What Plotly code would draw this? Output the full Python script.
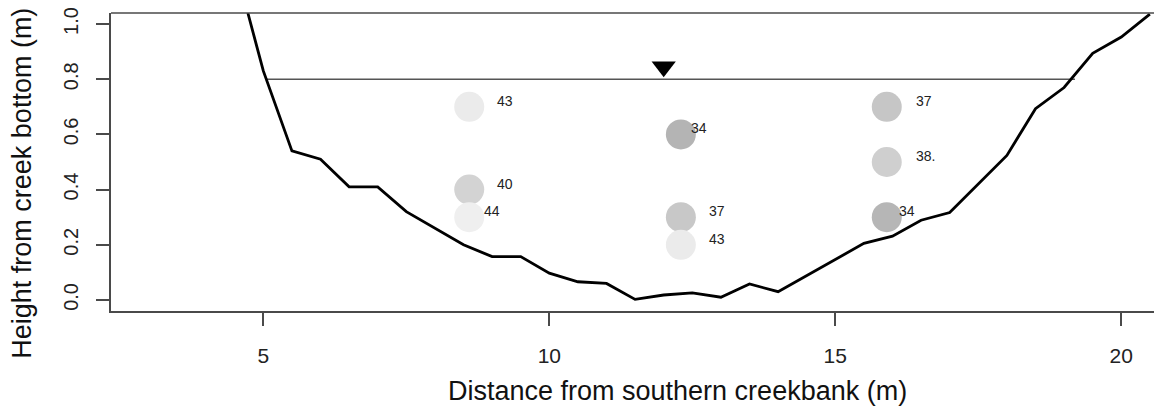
import plotly.graph_objects as go

# --- data ---------------------------------------------------------------
bed_x = [4.73, 5.0, 5.5, 6.0, 6.5, 7.0, 7.5, 8.0, 8.5, 9.0, 9.5, 10.0, 10.5,
         11.0, 11.5, 12.0, 12.5, 13.0, 13.5, 14.0, 14.5, 15.0, 15.5, 16.0,
         16.5, 17.0, 17.5, 18.0, 18.5, 19.0, 19.5, 20.0, 20.5]
bed_y = [1.04, 0.83, 0.54, 0.51, 0.41, 0.41, 0.32, 0.26, 0.20, 0.157, 0.157,
         0.097, 0.066, 0.06, 0.002, 0.018, 0.026, 0.01, 0.058, 0.03, 0.088,
         0.147, 0.205, 0.231, 0.289, 0.317, 0.42, 0.524, 0.693, 0.77, 0.894,
         0.953, 1.036]

water_x = [5.06, 19.19]
water_level = 0.8

marker_x = [12.0]
marker_y = [0.845]

pt_x = [8.6, 8.6, 8.6, 12.3, 12.3, 12.3, 15.9, 15.9, 15.9]
pt_y = [0.7, 0.4, 0.3, 0.6, 0.3, 0.2, 0.7, 0.5, 0.3]
pt_label = ["43", "40", "44", "34", "37", "43", "37", "38.", "34"]

x_ticks = [5, 10, 15, 20]
y_ticks = [0.0, 0.2, 0.4, 0.6, 0.8, 1.0]
y_ticktext = ["0.0", "0.2", "0.4", "0.6", "0.8", "1.0"]

# --- styles -------------------------------------------------------------
pt_colors = ["#ebebeb", "#d3d3d3", "#efefef", "#b4b4b4", "#c8c8c8",
             "#ebebeb", "#c6c6c6", "#cfcfcf", "#b6b6b6"]
label_shift_px = [26, 26, 13, 8, 26, 26, 27, 27, 10]

FONT = "Arial, Liberation Sans, sans-serif"
AXC = "#4a4a4a"

fig = go.Figure()

fig.add_trace(go.Scatter(
    x=water_x, y=[water_level] * len(water_x), mode="lines",
    line=dict(color="#555555", width=1.5), hoverinfo="skip"))

fig.add_trace(go.Scatter(
    x=pt_x, y=pt_y, mode="markers",
    marker=dict(size=30, color=pt_colors, line=dict(width=0)),
    hoverinfo="skip"))

fig.add_trace(go.Scatter(
    x=bed_x, y=bed_y, mode="lines",
    line=dict(color="black", width=2.8), hoverinfo="skip"))

fig.add_trace(go.Scatter(
    x=marker_x, y=marker_y, mode="markers",
    marker=dict(symbol="triangle-down", size=21, color="black",
                line=dict(width=0)),
    hoverinfo="skip", cliponaxis=False))

for x, y, t, s in zip(pt_x, pt_y, pt_label, label_shift_px):
    fig.add_annotation(x=x, y=y, text=t, showarrow=False, xanchor="left",
                       yanchor="middle", xshift=s, yshift=6,
                       font=dict(family=FONT, size=14, color="#222222"))

# axis titles
fig.add_annotation(xref="paper", yref="paper", x=0.5436, y=-0.27,
                   text="Distance from southern creekbank (m)", showarrow=False,
                   xanchor="center", yanchor="middle",
                   font=dict(family=FONT, size=27, color="#111111"))
fig.add_annotation(xref="paper", yref="paper", x=-0.0856, y=0.4295,
                   text="Height from creek bottom (m)", showarrow=False,
                   textangle=-90, xanchor="center", yanchor="middle",
                   font=dict(family=FONT, size=27, color="#111111"))

# top border of box
fig.add_shape(type="line", xref="paper", yref="paper", x0=0, x1=1, y0=1, y1=1,
              line=dict(color=AXC, width=1.5))

fig.update_layout(
    width=1154, height=408, autosize=False,
    margin=dict(l=111, r=0, t=13, b=97),
    paper_bgcolor="white", plot_bgcolor="white",
    showlegend=False,
    font=dict(family=FONT, color="#222222"),
    xaxis=dict(range=[2.337, 20.572], tickvals=x_ticks, ticks="outside",
               ticklen=13, tickwidth=1.5, tickcolor=AXC, showline=True,
               linecolor=AXC, linewidth=1.5, mirror=False, showgrid=False,
               zeroline=False, tickfont=dict(size=21, family=FONT,
                                             color="#222222"),
               ticklabelstandoff=12),
    yaxis=dict(range=[-0.04, 1.04], tickvals=y_ticks, ticktext=y_ticktext,
               tickangle=-90, ticks="outside", ticklen=13, tickwidth=1.5,
               tickcolor=AXC, showline=True, linecolor=AXC, linewidth=1.5,
               mirror=False, showgrid=False, zeroline=False,
               tickfont=dict(size=20, family=FONT, color="#222222"),
               ticklabelstandoff=10),
)

fig.write_html("out.html")
